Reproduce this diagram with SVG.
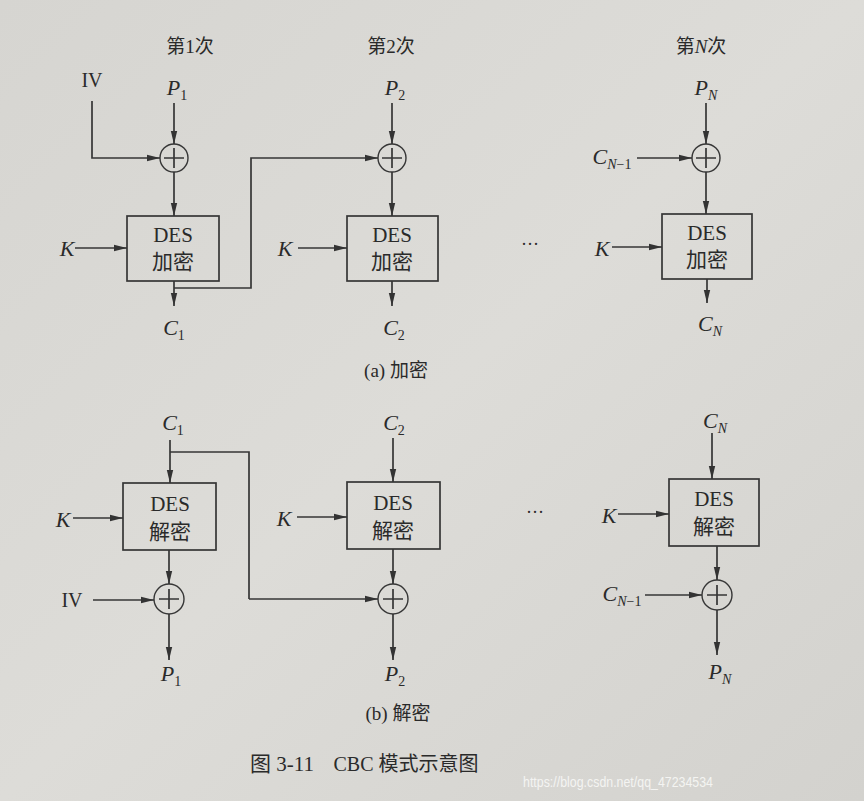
<svg xmlns="http://www.w3.org/2000/svg" width="864" height="801" viewBox="0 0 864 801">
<defs>
<linearGradient id="bg" x1="0" y1="0" x2="1" y2="1">
<stop offset="0" stop-color="#d6d5d1"/>
<stop offset="0.5" stop-color="#dddcd8"/>
<stop offset="1" stop-color="#d3d2ce"/>
</linearGradient>
<marker id="ah" markerUnits="userSpaceOnUse" markerWidth="14" markerHeight="8" refX="13" refY="4" orient="auto">
<path d="M0,0.8 L13,4 L0,7.2 Z" fill="#333"/>
</marker>
</defs>
<style>
.ln{fill:none;stroke:#363636;stroke-width:1.7}
.ar{fill:none;stroke:#363636;stroke-width:1.7;marker-end:url(#ah)}
.box{fill:none;stroke:#363636;stroke-width:1.7}
.xor{fill:none;stroke:#363636;stroke-width:1.4}
.t{font-family:"Liberation Serif","Noto Sans CJK SC",serif;fill:#2a2a2a;text-anchor:middle}
.bx{font-size:21px}
.lb{font-size:22px;font-style:italic}
.sb{font-size:14px;font-style:normal}
.it{font-style:italic}
.ti{font-size:19px}
</style>
<rect width="864" height="801" fill="url(#bg)"/>

<!-- titles -->
<text class="t ti" x="190" y="53">第1次</text>
<text class="t ti" x="391" y="53">第2次</text>
<text class="t ti" x="701" y="53">第<tspan class="it">N</tspan>次</text>

<!-- ===== Encryption ===== -->
<g id="enc1">
<rect class="box" x="127" y="216" width="92" height="65"/>
<text class="t bx" x="173" y="242">DES</text>
<text class="t bx" x="173" y="269">加密</text>
<circle class="xor" cx="174" cy="158" r="14"/>
<path class="ln" d="M174,148 V168 M164,158 H184"/>
</g>
<g id="enc2">
<rect class="box" x="347" y="216" width="91" height="65"/>
<text class="t bx" x="392" y="242">DES</text>
<text class="t bx" x="392" y="269">加密</text>
<circle class="xor" cx="392" cy="158" r="14"/>
<path class="ln" d="M392,148 V168 M382,158 H402"/>
</g>
<g id="encN">
<rect class="box" x="662" y="214" width="90" height="65"/>
<text class="t bx" x="707" y="240">DES</text>
<text class="t bx" x="707" y="267">加密</text>
<circle class="xor" cx="706" cy="158" r="14"/>
<path class="ln" d="M706,148 V168 M696,158 H716"/>
</g>

<!-- encryption labels -->
<text class="t ti" x="92" y="87" style="font-size:20px">IV</text>
<text class="t lb" x="177" y="95">P<tspan class="sb" dy="5">1</tspan></text>
<text class="t lb" x="395" y="95">P<tspan class="sb" dy="5">2</tspan></text>
<text class="t lb" x="706" y="95">P<tspan class="sb it" dy="5">N</tspan></text>
<text class="t lb" x="67" y="256">K</text>
<text class="t lb" x="285" y="256">K</text>
<text class="t lb" x="602" y="256">K</text>
<text class="t lb" x="174" y="335">C<tspan class="sb" dy="5">1</tspan></text>
<text class="t lb" x="394" y="335">C<tspan class="sb" dy="5">2</tspan></text>
<text class="t lb" x="710" y="331">C<tspan class="sb it" dy="5">N</tspan></text>
<text class="t lb" x="612" y="164">C<tspan class="sb it" dy="5">N</tspan><tspan class="sb">−1</tspan></text>
<text class="t" x="530" y="250" style="font-size:18px">···</text>
<text class="t ti" x="396" y="377">(a) 加密</text>

<!-- ===== Decryption ===== -->
<g id="dec1">
<rect class="box" x="123" y="483" width="93" height="67"/>
<text class="t bx" x="170" y="511">DES</text>
<text class="t bx" x="170" y="539">解密</text>
<circle class="xor" cx="169" cy="599" r="15"/>
<path class="ln" d="M169,589 V609 M159,599 H179"/>
</g>
<g id="dec2">
<rect class="box" x="347" y="482" width="93" height="67"/>
<text class="t bx" x="393" y="510">DES</text>
<text class="t bx" x="393" y="538">解密</text>
<circle class="xor" cx="393" cy="599" r="15"/>
<path class="ln" d="M393,589 V609 M383,599 H403"/>
</g>
<g id="decN">
<rect class="box" x="669" y="479" width="90" height="67"/>
<text class="t bx" x="714" y="506">DES</text>
<text class="t bx" x="714" y="534">解密</text>
<circle class="xor" cx="717" cy="595" r="15"/>
<path class="ln" d="M717,585 V605 M707,595 H727"/>
</g>

<!-- decryption labels -->
<text class="t lb" x="173" y="430">C<tspan class="sb" dy="5">1</tspan></text>
<text class="t lb" x="394" y="430">C<tspan class="sb" dy="5">2</tspan></text>
<text class="t lb" x="715" y="428">C<tspan class="sb it" dy="5">N</tspan></text>
<text class="t lb" x="63" y="527">K</text>
<text class="t lb" x="284" y="526">K</text>
<text class="t lb" x="609" y="523">K</text>
<text class="t ti" x="72" y="607" style="font-size:20px">IV</text>
<text class="t lb" x="622" y="601">C<tspan class="sb it" dy="5">N</tspan><tspan class="sb">−1</tspan></text>
<text class="t lb" x="171" y="681">P<tspan class="sb" dy="5">1</tspan></text>
<text class="t lb" x="395" y="681">P<tspan class="sb" dy="5">2</tspan></text>
<text class="t lb" x="720" y="679">P<tspan class="sb it" dy="5">N</tspan></text>
<text class="t" x="535" y="518" style="font-size:18px">···</text>
<text class="t ti" x="398" y="720">(b) 解密</text>

<!-- caption -->
<text class="t" x="282" y="771" style="font-size:21px">图 3-11</text>
<text class="t" x="406" y="771" style="font-size:20px">CBC 模式示意图</text>
<text x="523" y="787" textLength="190" lengthAdjust="spacingAndGlyphs" style="font-family:'Liberation Sans',sans-serif;font-size:15px;fill:#f4f4f2">https://blog.csdn.net/qq_47234534</text>

<!-- connectors -->
<g id="connectors">
<path class="ar" d="M92,101 V158 H160"/>
<path class="ar" d="M174,103 V144"/>
<path class="ar" d="M174,172 V216"/>
<path class="ar" d="M75,248 H127"/>
<path class="ar" d="M174,281 V306"/>
<path class="ar" d="M174,288 H251 V158 H378"/>
<path class="ar" d="M392,103 V144"/>
<path class="ar" d="M392,172 V216"/>
<path class="ar" d="M298,248 H347"/>
<path class="ar" d="M392,281 V306"/>
<path class="ar" d="M706,103 V144"/>
<path class="ar" d="M637,158 H692"/>
<path class="ar" d="M706,172 V214"/>
<path class="ar" d="M612,247 H662"/>
<path class="ar" d="M707,279 V303"/>

<path class="ar" d="M170,440 V483"/>
<path class="ln" d="M170,452 H249 V599"/>
<path class="ar" d="M249,599 H378"/>
<path class="ar" d="M73,518 H123"/>
<path class="ar" d="M169,550 V584"/>
<path class="ar" d="M93,600 H154"/>
<path class="ar" d="M169,614 V660"/>
<path class="ar" d="M393,438 V482"/>
<path class="ar" d="M297,517 H347"/>
<path class="ar" d="M393,549 V584"/>
<path class="ar" d="M393,614 V660"/>
<path class="ar" d="M712,433 V479"/>
<path class="ar" d="M618,514 H669"/>
<path class="ar" d="M717,546 V580"/>
<path class="ar" d="M645,595 H702"/>
<path class="ar" d="M717,610 V655"/>
</g>
</svg>
